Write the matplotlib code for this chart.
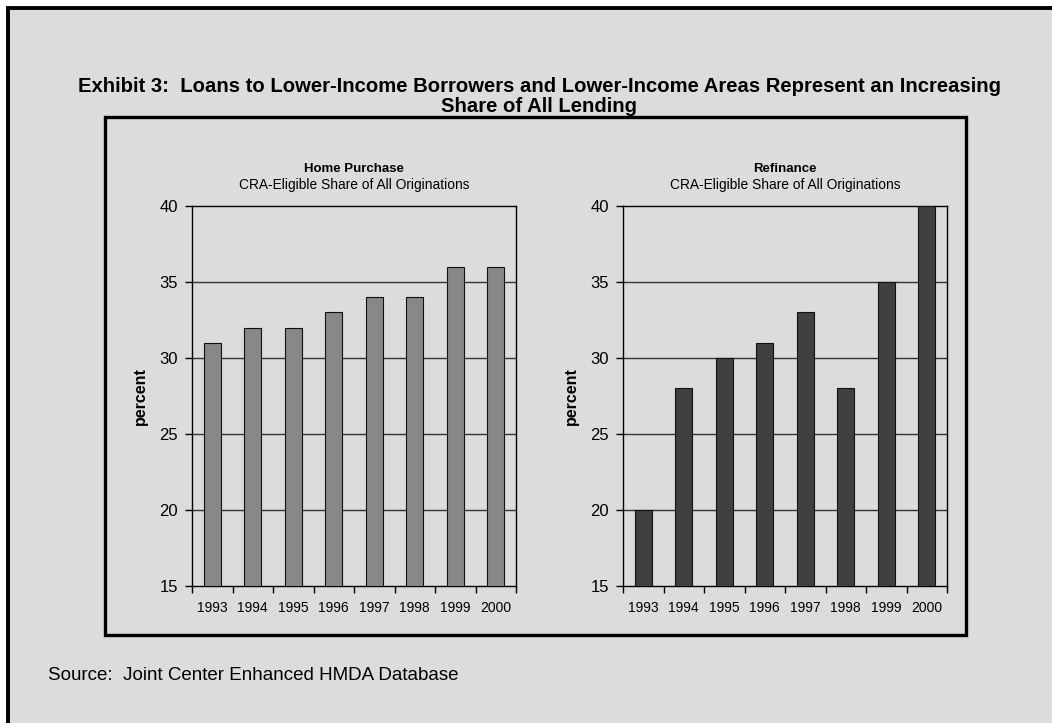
import matplotlib
matplotlib.use("Agg")
import matplotlib.pyplot as plt
from matplotlib.patches import Rectangle
import numpy as np

plt.rcParams['font.family'] = ['Liberation Sans', 'DejaVu Sans']

years = ['1993', '1994', '1995', '1996', '1997', '1998', '1999', '2000']
home_purchase = [31, 32, 32, 33, 34, 34, 36, 36]
refinance = [20, 28, 30, 31, 33, 28, 35, 40]
yticks = [15, 20, 25, 30, 35, 40]

W, H = 1052, 723
BG = '#dcdcdc'
fig = plt.figure(figsize=(W / 100, H / 100), dpi=100)
fig.patch.set_facecolor('white')

def fx(px):
    return px / W

def fy(py):
    return 1 - py / H

# outer gray panel with black top/left border
fig.patches.append(Rectangle((fx(7.5), fy(760)), fx(1100), fy(8.5) - fy(760),
                             transform=fig.transFigure, facecolor=BG,
                             edgecolor='black', linewidth=2.8, zorder=-5))
# inner frame
fig.patches.append(Rectangle((fx(104.5), fy(635)), fx(966 - 104.5), fy(117) - fy(635),
                             transform=fig.transFigure, facecolor='none',
                             edgecolor='black', linewidth=2.4, zorder=5))

fig.text(fx(539), fy(86), 'Exhibit 3:  Loans to Lower-Income Borrowers and Lower-Income Areas Represent an Increasing',
         ha='center', va='center', fontsize=14.6, fontweight='bold')
fig.text(fx(539), fy(106.5), 'Share of All Lending', ha='center', va='center', fontsize=14.6, fontweight='bold')
fig.text(fx(48), fy(675), 'Source:  Joint Center Enhanced HMDA Database', ha='left', va='center', fontsize=13.5)

panels = [
    (192, 'Home Purchase', home_purchase, '#888888'),
    (623, 'Refinance', refinance, '#404040'),
]

for x0, title, vals, color in panels:
    ax = fig.add_axes([fx(x0), fy(586), fx(324), fy(206) - fy(586)])
    ax.set_facecolor(BG)
    x = np.arange(len(years))
    ax.bar(x, vals, width=0.41, color=color, edgecolor='#111111', linewidth=0.8, zorder=3)
    ax.set_ylim(15, 40)
    ax.set_xlim(-0.5, len(years) - 0.5)
    ax.set_yticks(yticks)
    ax.set_yticklabels([str(v) for v in yticks], fontsize=12)
    ax.set_xticks(x)
    ax.set_xticklabels(years, fontsize=10)
    ax.set_xticks(np.arange(-0.5, len(years), 1.0), minor=True)
    ax.tick_params(axis='x', which='major', length=0, pad=11)
    ax.tick_params(axis='x', which='minor', length=5, width=1, direction='out')
    ax.tick_params(axis='y', length=5, width=1, direction='out', pad=5)
    for yv in yticks[1:-1]:
        ax.axhline(yv, color='#333333', linewidth=1.0, zorder=1)
    for s in ax.spines.values():
        s.set_color('black')
        s.set_linewidth(1.0)
    ax.set_ylabel('percent', fontsize=11.5, fontweight='bold', labelpad=8)
    cx = x0 + 162
    fig.text(fx(cx), fy(169), title, ha='center', va='center', fontsize=9.5, fontweight='bold')
    fig.text(fx(cx), fy(185), 'CRA-Eligible Share of All Originations', ha='center', va='center', fontsize=9.9)

fig.savefig('out.png', dpi=100, facecolor=fig.get_facecolor())
